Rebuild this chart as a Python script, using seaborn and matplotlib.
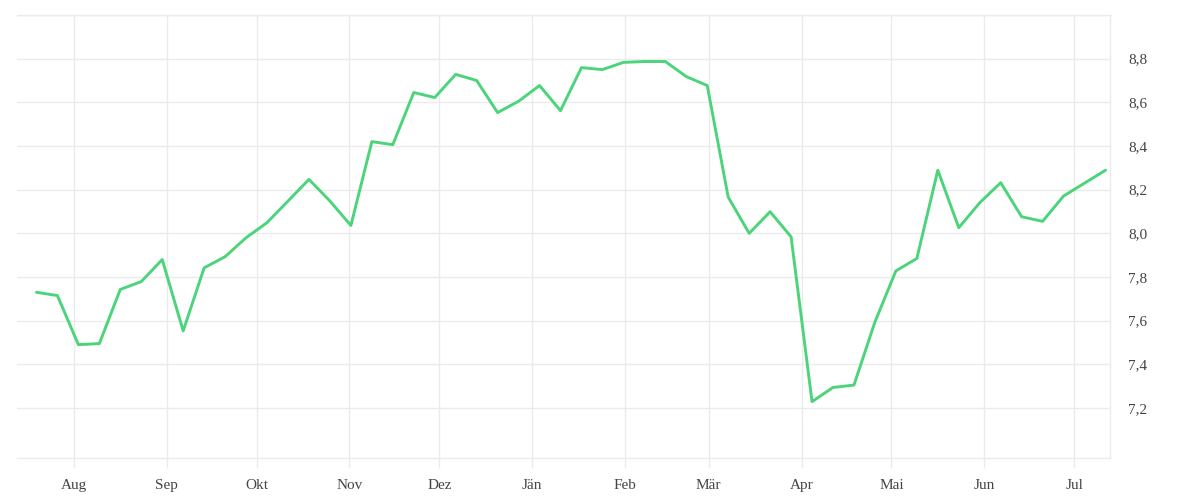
import pandas as pd
import matplotlib.pyplot as plt
import matplotlib.ticker as mticker
import seaborn as sns

# weekly values
dates = pd.date_range("2022-07-19 12:00", periods=52, freq="7D")
values = [
    7.73, 7.715, 7.49, 7.495, 7.743, 7.779, 7.88, 7.553, 7.842, 7.893,
    7.98, 8.049, 8.148, 8.247, 8.148, 8.036, 8.42, 8.406, 8.645, 8.622,
    8.728, 8.70, 8.553, 8.605, 8.677, 8.562, 8.759, 8.75, 8.783, 8.787,
    8.787, 8.718, 8.677, 8.166, 8.0, 8.099, 7.984, 7.229, 7.294, 7.305,
    7.594, 7.828, 7.885, 8.289, 8.026, 8.14, 8.232, 8.076, 8.055, 8.171,
    8.23, 8.289,
]
month_labels = ["Aug", "Sep", "Okt", "Nov", "Dez", "Jän", "Feb", "Mär", "Apr", "Mai", "Jun", "Jul"]
y_ticks = [7.2, 7.4, 7.6, 7.8, 8.0, 8.2, 8.4, 8.6, 8.8, 9.0]

df = pd.DataFrame({"date": dates, "value": values})

sns.set_theme(style="white")
plt.rcParams["font.family"] = ["Liberation Serif", "DejaVu Serif"]

grid_col = "#ebebeb"
text_col = "#444444"

fig = plt.figure(figsize=(12, 5), dpi=100)
ax = fig.add_axes([17 / 1200, 1 - 458 / 500, (1110 - 17) / 1200, (458 - 15) / 500])

sns.lineplot(data=df, x="date", y="value", ax=ax, color="#4cd47b", linewidth=2.1)

ax.set_xlim(pd.Timestamp("2022-07-13"), pd.Timestamp("2023-07-13"))
ax.set_ylim(6.971, 9.0)

# month gridlines / labels
month_starts = pd.date_range("2022-08-01", periods=12, freq="MS")
ax.set_xticks(month_starts)
ax.set_xticklabels(month_labels)
ax.set_yticks(y_ticks)
ax.yaxis.set_major_formatter(mticker.FuncFormatter(
    lambda v, p: "" if v > 8.9 else f"{v:.1f}".replace(".", ",")))
ax.yaxis.tick_right()

ax.grid(True, color=grid_col, linewidth=1)
ax.tick_params(axis="x", length=7, width=1, color=grid_col, pad=8,
               labelsize=11, labelcolor=text_col, bottom=True)
ax.tick_params(axis="y", length=0, pad=13, labelsize=11, labelcolor=text_col)

for side in ["top", "bottom", "right"]:
    ax.spines[side].set_color(grid_col)
    ax.spines[side].set_linewidth(1)
ax.spines["left"].set_visible(False)

ax.set_xlabel("")
ax.set_ylabel("")

fig.savefig("out.png", dpi=100)
